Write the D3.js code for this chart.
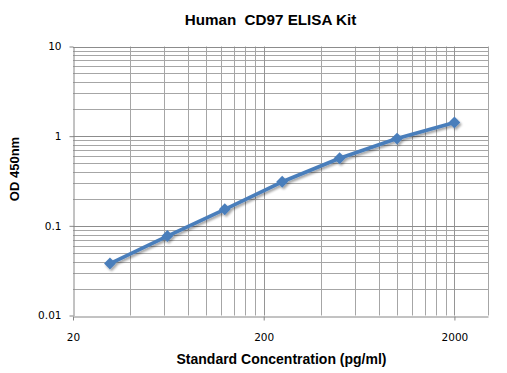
<!DOCTYPE html>
<html><head><meta charset="utf-8">
<script src="https://cdn.jsdelivr.net/npm/d3@7/dist/d3.min.js"></script>
<style>
html,body{margin:0;padding:0;background:#fff;}
svg{display:block;}
</style></head>
<body>
<svg id="chart" width="507" height="373"></svg>
<script>
const title = "Human  CD97 ELISA Kit";
const xTitle = "Standard Concentration (pg/ml)";
const yTitle = "OD 450nm";
const concentrations = [31.25, 62.5, 125, 250, 500, 1000, 2000];
const odValues = [0.038, 0.077, 0.153, 0.31, 0.567, 0.94, 1.42];
const xTickValues = [20, 200, 2000];
const xTickLabels = ["20", "200", "2000"];
const yTickValues = [0.01, 0.1, 1, 10];
const yTickLabels = ["0.01", "0.1", "1", "10"];
const xDomain = [20, 3000];
const yDomain = [0.01, 10];

(function () {
const svg = d3.select("#chart");
const pLeft = 73, pRight = 488, pTop = 46.5, pBottom = 315.5;
const x = d3.scaleLog().domain(xDomain).range([pLeft, pRight]);
const y = d3.scaleLog().domain(yDomain).range([pBottom, pTop]);

const defs = svg.append("defs");
const f = defs.append("filter").attr("id","sh").attr("x","-50%").attr("y","-50%").attr("width","200%").attr("height","200%");
f.append("feDropShadow").attr("dx",1.5).attr("dy",2).attr("stdDeviation",1.2)
  .attr("flood-color","#000").attr("flood-opacity",0.35);

const xMinor = [];
xTickValues.forEach(b => { for (let k = 2; k <= 9; k++) { const v = b * k; if (v < xDomain[1]) xMinor.push(v); } });
const yMinor = [];
yTickValues.slice(0, -1).forEach(b => { for (let k = 2; k <= 9; k++) yMinor.push(b * k); });

const g = svg.append("g");
g.selectAll(".xm").data(xMinor).enter().append("line")
  .attr("x1", d => Math.round(x(d)) + 0.5).attr("x2", d => Math.round(x(d)) + 0.5)
  .attr("y1", pTop).attr("y2", pBottom).attr("stroke", "#a6a6a6").attr("stroke-width", 1);
g.selectAll(".ym").data(yMinor).enter().append("line")
  .attr("y1", d => Math.round(y(d)) + 0.5).attr("y2", d => Math.round(y(d)) + 0.5)
  .attr("x1", pLeft).attr("x2", pRight).attr("stroke", "#a6a6a6").attr("stroke-width", 1);
g.selectAll(".xM").data(xTickValues.slice(1)).enter().append("line")
  .attr("x1", d => Math.round(x(d)) + 0.5).attr("x2", d => Math.round(x(d)) + 0.5)
  .attr("y1", pTop).attr("y2", pBottom).attr("stroke", "#959595").attr("stroke-width", 1);
g.selectAll(".yM").data(yTickValues.slice(1)).enter().append("line")
  .attr("y1", d => Math.round(y(d)) + 0.5).attr("y2", d => Math.round(y(d)) + 0.5)
  .attr("x1", pLeft).attr("x2", pRight).attr("stroke", "#8c8c8c").attr("stroke-width", 1);
g.append("line").attr("x1", Math.round(pRight) + 0.5).attr("x2", Math.round(pRight) + 0.5)
  .attr("y1", pTop).attr("y2", pBottom).attr("stroke", "#a6a6a6");

const xAxis = d3.axisBottom(x).tickValues(xTickValues).tickFormat((d, i) => xTickLabels[i]).tickSize(4).tickSizeOuter(0);
const yAxis = d3.axisLeft(y).tickValues(yTickValues).tickFormat((d, i) => yTickLabels[i]).tickSize(4).tickSizeOuter(0);
const xa = svg.append("g").attr("transform", `translate(0,${Math.round(pBottom) + 0.5})`).call(xAxis);
const ya = svg.append("g").attr("transform", `translate(${Math.round(pLeft) + 0.5},0)`).call(yAxis);
[xa, ya].forEach(a => {
  a.select(".domain").attr("stroke", "#868686");
  a.selectAll(".tick line").attr("stroke", "#868686");
  a.selectAll("text").attr("fill", "#000").attr("font-family", "'DejaVu Sans', Verdana, sans-serif").attr("font-size", "10.5px");
});
xa.selectAll("text").attr("dy", "0.71em").attr("y", 17);
ya.selectAll("text").attr("x", -12);

const pts = concentrations.map((c, i) => [c, odValues[i]]);
const lg = svg.append("g").attr("filter", "url(#sh)");
lg.append("path").datum(pts)
  .attr("d", d3.line().x(d => x(d[0])).y(d => y(d[1])))
  .attr("fill", "none").attr("stroke", "#4a7ebb").attr("stroke-width", 3.6).attr("stroke-linejoin", "round");
lg.selectAll(".mk").data(pts).enter().append("path")
  .attr("d", d3.symbol(d3.symbolSquare, 70)())
  .attr("transform", d => `translate(${x(d[0])},${y(d[1])}) rotate(45)`)
  .attr("fill", "#4a7ebb");

const tf = "'Liberation Sans', Arial, sans-serif";
svg.append("text").attr("x", 270.5).attr("y", 25).attr("text-anchor", "middle")
  .style("white-space", "pre").attr("xml:space", "preserve")
  .attr("font-family", tf).attr("font-weight", "bold").attr("font-size", "15.2px").text(title);
svg.append("text").attr("x", 281.5).attr("y", 364).attr("text-anchor", "middle")
  .attr("font-family", tf).attr("font-weight", "bold").attr("font-size", "14px").text(xTitle);
svg.append("text").attr("transform", "translate(18.5,169) rotate(-90)").attr("text-anchor", "middle")
  .attr("font-family", tf).attr("font-weight", "bold").attr("font-size", "13px").text(yTitle);
})();
</script>
</body></html>
